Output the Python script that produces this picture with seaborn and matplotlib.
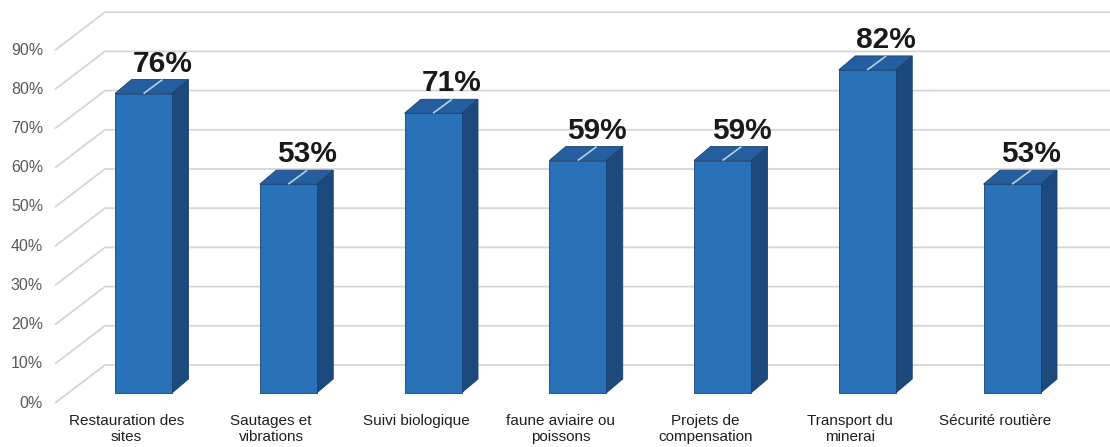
import matplotlib
matplotlib.use("Agg")
import matplotlib.pyplot as plt
import seaborn as sns
import pandas as pd
from matplotlib.patches import Polygon

# ---- data ----
categories = [
    "Restauration des\nsites",
    "Sautages et\nvibrations",
    "Suivi biologique",
    "faune aviaire ou\npoissons",
    "Projets de\ncompensation",
    "Transport du\nminerai",
    "Sécurité routière",
]
values = [76, 53, 71, 59, 59, 82, 53]
value_labels = ["76%", "53%", "71%", "59%", "59%", "82%", "53%"]
tick_values = [0, 10, 20, 30, 40, 50, 60, 70, 80, 90]
tick_labels = ["0%", "10%", "20%", "30%", "40%", "50%", "60%", "70%", "80%", "90%"]

# ---- style ----
FRONT = "#2a72b8"
TOP = "#245e9e"
SIDE = "#1d4a7c"
EDGE = "#1a4170"
GRID = "#d6d6d6"

W, H = 1110, 447
PX_X = 144.75          # pixels per category unit
PX_Y = 3.94            # pixels per percent
X0_PX = 143.5          # pixel x of first bar centre
BASE_PX = 393          # pixel y of bar baseline

DEPTH_X = 16.5 / PX_X  # 3D depth offset (data units)
DEPTH_Y = 14 / PX_Y

sns.set_theme(style="white")
plt.rcParams["font.family"] = ["Liberation Sans", "DejaVu Sans"]

fig = plt.figure(figsize=(W / 100, H / 100), dpi=100)
ax = fig.add_axes([0, 0, 1, 1])

df = pd.DataFrame({"cat": categories, "val": values})
sns.barplot(data=df, x="cat", y="val", color=FRONT, saturation=1, width=57 / PX_X,
            edgecolor=EDGE, linewidth=0.6, ax=ax, zorder=4)

xmin = -X0_PX / PX_X
xmax = (W - X0_PX) / PX_X
ymin = -(H - BASE_PX) / PX_Y
ymax = BASE_PX / PX_Y
ax.set_xlim(xmin, xmax)
ax.set_ylim(ymin, ymax)
ax.set_axis_off()

# ---- perspective gridlines ----
xf = (55 - X0_PX) / PX_X
xb = (105 - X0_PX) / PX_X
yf_off = -(403 - BASE_PX) / PX_Y
yb_off = (BASE_PX - 365) / PX_Y
for v, lab in zip(tick_values, tick_labels):
    yf = v * 0.995 + yf_off
    yb = v * 0.995 + yb_off
    ax.plot([xf, xb, xmax], [yf, yb, yb], color=GRID, lw=1.3, zorder=1,
            solid_capstyle="butt")
    ax.text((43 - X0_PX) / PX_X, yf, lab, ha="right", va="center",
            fontsize=11.5, color="#595959")

# ---- 3D faces ----
for patch, lab in zip(ax.patches, value_labels):
    x0 = patch.get_x()
    w = patch.get_width()
    x1 = x0 + w
    h = patch.get_height()
    side = Polygon([(x1, 0), (x1 + DEPTH_X, DEPTH_Y), (x1 + DEPTH_X, h + DEPTH_Y), (x1, h)],
                   closed=True, facecolor=SIDE, edgecolor=EDGE, lw=0.6, zorder=3)
    top = Polygon([(x0, h), (x1, h), (x1 + DEPTH_X, h + DEPTH_Y), (x0 + DEPTH_X, h + DEPTH_Y)],
                  closed=True, facecolor=TOP, edgecolor=EDGE, lw=0.6, zorder=3)
    ax.add_patch(side)
    ax.add_patch(top)
    xc = x0 + w / 2
    ax.plot([xc, xc + DEPTH_X * 1.15], [h, h + DEPTH_Y], color="#b8cfe6", lw=1.2,
            zorder=5, solid_capstyle="butt")
    ax.text(xc + 19 / PX_X, h + 22 / PX_Y, lab, ha="center", va="baseline",
            fontsize=21.5, fontweight="bold", color="#1a1a1a", zorder=6)

# ---- category labels ----
for i, cat in enumerate(categories):
    ax.text(i - 17 / PX_X, -(414 - BASE_PX) / PX_Y, cat, ha="center", va="top",
            fontsize=11, color="#1f1f1f", linespacing=1.15)

fig.savefig("out.png", dpi=100)
